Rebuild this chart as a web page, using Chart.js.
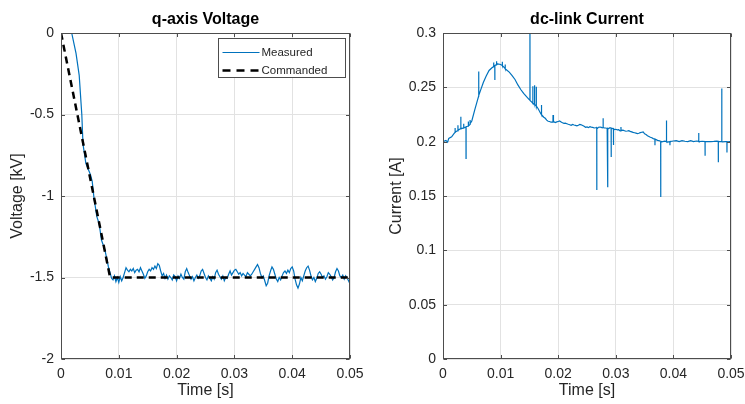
<!DOCTYPE html>
<html>
<head>
<meta charset="utf-8">
<script src="https://cdn.jsdelivr.net/npm/chart.js@4.4.1/dist/chart.umd.min.js"></script>
<style>
  html, body { margin: 0; padding: 0; background: #ffffff; }
  #wrap { position: relative; width: 745px; height: 404px; overflow: hidden; background: #ffffff; }
  .panel { position: absolute; top: 0; height: 404px; }
  #left { left: 0; width: 372px; }
  #right { left: 372px; width: 373px; }
  canvas { display: block; }
</style>
</head>
<body>
<div id="wrap">
  <div class="panel" id="left"><canvas id="voltageCanvas" width="372" height="404"></canvas></div>
  <div class="panel" id="right"><canvas id="currentCanvas" width="373" height="404"></canvas></div>
</div>
<script>
// ---- axis ticks ----
const timeTicks = [0, 0.01, 0.02, 0.03, 0.04, 0.05];
const timeTickLabels = ['0', '0.01', '0.02', '0.03', '0.04', '0.05'];
const voltageTicks = [-2, -1.5, -1, -0.5, 0];
const voltageTickLabels = ['-2', '-1.5', '-1', '-0.5', '0'];
const currentTicks = [0, 0.05, 0.1, 0.15, 0.2, 0.25, 0.3];
const currentTickLabels = ['0', '0.05', '0.1', '0.15', '0.2', '0.25', '0.3'];

// ---- q-axis voltage reference [kV] ----
const commandedTime = [0, 0.0085, 0.05];
const commandedVoltage = [0, -1.5, -1.5];

// ---- measured q-axis voltage [kV]: ramp-down part ----
const rampTime = [0.00185, 0.0026, 0.00315, 0.0036, 0.0038, 0.0043, 0.0051, 0.0054,
                  0.0057, 0.0062, 0.0066, 0.0070, 0.0076, 0.0082, 0.0086, 0.00875];
const rampVoltage = [0, -0.125, -0.26, -0.50, -0.68, -0.80, -0.87, -0.91,
                     -1.01, -1.127, -1.17, -1.27, -1.33, -1.434, -1.485, -1.505];

// ---- measured q-axis voltage [kV]: logged every 0.25 ms from 9 ms on ----
const steadyStart = 0.009;
const sampleStep = 0.00025;
const steadyVoltage = [
  -1.515, -1.49, -1.525, -1.50, -1.53, -1.495, -1.52, -1.50,
  -1.47, -1.44, -1.455, -1.465, -1.45, -1.46, -1.445, -1.47, -1.455, -1.45, -1.465, -1.44, -1.46,
  -1.48, -1.505, -1.49,
  -1.465, -1.45, -1.46, -1.44, -1.45, -1.43, -1.445, -1.415, -1.425,
  -1.46, -1.49, -1.475, -1.505, -1.485, -1.51, -1.49, -1.50, -1.515, -1.485, -1.495, -1.52, -1.49, -1.505, -1.48, -1.50, -1.51,
  -1.465, -1.445, -1.47,
  -1.49, -1.51, -1.495, -1.52, -1.50, -1.485, -1.505, -1.49,
  -1.46, -1.45, -1.475,
  -1.50, -1.515, -1.49, -1.505, -1.52, -1.495, -1.51,
  -1.47, -1.455, -1.48,
  -1.495, -1.51, -1.49, -1.52, -1.50, -1.505,
  -1.48, -1.46, -1.485,
  -1.47, -1.455, -1.45, -1.465,
  -1.48, -1.47, -1.49, -1.475, -1.485, -1.495, -1.47, -1.48, -1.49,
  -1.48, -1.465, -1.45,
  -1.435, -1.42, -1.44,
  -1.475, -1.50, -1.49,
  -1.52, -1.55, -1.535,
  -1.49, -1.46, -1.435, -1.45,
  -1.48, -1.51, -1.525, -1.50, -1.515, -1.49, -1.47,
  -1.46, -1.475, -1.455, -1.47,
  -1.445, -1.435, -1.46,
  -1.51, -1.545, -1.565, -1.54,
  -1.50, -1.52, -1.49,
  -1.46, -1.44, -1.43, -1.455,
  -1.49, -1.515, -1.50, -1.525, -1.505,
  -1.475, -1.465, -1.48,
  -1.50, -1.49, -1.51, -1.495,
  -1.47, -1.48, -1.495,
  -1.515, -1.50, -1.465,
  -1.445, -1.46, -1.49,
  -1.50, -1.485, -1.51, -1.49, -1.505, -1.52, -1.54
];

// ---- dc-link current [A] ----
const currentTime = [
  0, 0.0005, 0.0008, 0.0010, 0.0015, 0.0020,
  0.00209, 0.0021, 0.00211,
  0.0025,
  0.00259, 0.0026, 0.00261,
  0.0030,
  0.00309, 0.0031, 0.00311,
  0.0035,
  0.00359, 0.0036, 0.00361,
  0.0038,
  0.00399, 0.0040, 0.00401,
  0.0043,
  0.00439, 0.0044, 0.00441,
  0.0046,
  0.00469, 0.0047, 0.00471,
  0.0050, 0.0055, 0.0060,
  0.00619, 0.0062, 0.00621,
  0.0065, 0.0070, 0.0075, 0.0080, 0.0085,
  0.00879, 0.0088, 0.00881,
  0.00899, 0.0090, 0.00901,
  0.00929, 0.0093, 0.00931,
  0.0095, 0.0100,
  0.01029, 0.0103, 0.01031,
  0.0105,
  0.01079, 0.0108, 0.01081,
  0.0110, 0.0115, 0.0120, 0.0125, 0.0130, 0.0135, 0.0140, 0.0145, 0.0150,
  0.01509, 0.0151, 0.01511,
  0.0155,
  0.01559, 0.0156, 0.01561,
  0.01589, 0.0159, 0.01591,
  0.0160,
  0.01619, 0.0162, 0.01621,
  0.0165, 0.0170,
  0.01709, 0.0171, 0.01711,
  0.0175, 0.01775, 0.0180, 0.01825, 0.0185, 0.01875, 0.0190, 0.01909, 0.0191, 0.01911,
  0.01925, 0.0195, 0.01975, 0.0200, 0.02025, 0.0205, 0.02075, 0.0210, 0.02125, 0.0215,
  0.02175, 0.0220, 0.02225, 0.0225, 0.02275, 0.0230, 0.02325, 0.0235, 0.02375, 0.0240,
  0.02425, 0.0245, 0.02475, 0.0250, 0.02525, 0.0255, 0.02575, 0.0260, 0.02625, 0.0265,
  0.02669, 0.0267, 0.02671, 0.02685, 0.0270, 0.02725, 0.0275, 0.02765, 0.02779, 0.0278,
  0.02781, 0.0280, 0.02825, 0.0285, 0.02859, 0.0286, 0.02861, 0.02875, 0.0290, 0.02919,
  0.0292, 0.02921, 0.02935, 0.02959, 0.0296, 0.02961, 0.02975, 0.0300, 0.03025, 0.0305,
  0.03075, 0.03089, 0.0309, 0.03091, 0.0310, 0.03125, 0.0315, 0.03175, 0.0320, 0.03225,
  0.0325, 0.03275, 0.0330, 0.03325, 0.0335, 0.03375, 0.0340, 0.03425, 0.0345, 0.03475,
  0.0350, 0.03525, 0.0355, 0.03575, 0.0360, 0.03625, 0.0365, 0.03679, 0.0368, 0.03681,
  0.0370, 0.03725, 0.0375, 0.03765,
  0.03779, 0.0378, 0.03781,
  0.0380, 0.0385,
  0.03879, 0.0388, 0.03881,
  0.0390,
  0.03939, 0.0394, 0.03941,
  0.0395, 0.0400, 0.0405, 0.0410, 0.0415, 0.0420, 0.0425, 0.0430, 0.0435, 0.0440,
  0.04439, 0.0444, 0.04441,
  0.0445, 0.0450,
  0.04549, 0.0455, 0.04551,
  0.0460, 0.0465, 0.0470, 0.0475,
  0.04779, 0.0478, 0.04781,
  0.0480,
  0.04839, 0.0484, 0.04841,
  0.0485, 0.0490,
  0.04929, 0.0493, 0.04931,
  0.0495, 0.0500
];
const currentValue = [
  0.2000, 0.2012, 0.1996, 0.2030, 0.2045, 0.2080,
  0.2085, 0.2125, 0.2088,
  0.2100,
  0.2102, 0.2150, 0.2104,
  0.2118,
  0.2118, 0.2230, 0.2120,
  0.2125,
  0.2127, 0.2165, 0.2128,
  0.2132,
  0.2135, 0.1845, 0.2138,
  0.2142,
  0.2143, 0.2185, 0.2146,
  0.2152,
  0.2160, 0.2200, 0.2165,
  0.2190, 0.2290, 0.2385,
  0.2420, 0.2645, 0.2425,
  0.2470, 0.2545, 0.2605, 0.2655, 0.2680,
  0.2690, 0.2728, 0.2692,
  0.2700, 0.2568, 0.2702,
  0.2706, 0.2740, 0.2708,
  0.2715, 0.2710,
  0.2700, 0.2735, 0.2698,
  0.2690,
  0.2672, 0.2710, 0.2670,
  0.2662, 0.2640, 0.2608, 0.2572, 0.2522, 0.2480, 0.2444, 0.2415, 0.2385,
  0.2382, 0.3100, 0.2379,
  0.2360,
  0.2356, 0.2510, 0.2352,
  0.2345, 0.2520, 0.2342,
  0.2338,
  0.2330, 0.2505, 0.2327,
  0.2305, 0.2255,
  0.2250, 0.2338, 0.2248,
  0.2225, 0.2215, 0.2198, 0.2188, 0.2186, 0.2179, 0.2181, 0.2180, 0.2246, 0.2179,
  0.2185, 0.2176, 0.2182, 0.2186, 0.2190, 0.2182, 0.2174, 0.2168, 0.2170, 0.2165,
  0.2160, 0.2156, 0.2150, 0.2158, 0.2153, 0.2150, 0.2146, 0.2151, 0.2158, 0.2155,
  0.2149, 0.2142, 0.2132, 0.2135, 0.2129, 0.2138, 0.2134, 0.2131, 0.2126, 0.2128,
  0.2128, 0.1555, 0.2129, 0.2124, 0.2133, 0.2135, 0.2131, 0.2127, 0.2130, 0.2215,
  0.2130, 0.2127, 0.2126, 0.2122, 0.2122, 0.1580, 0.2123, 0.2120, 0.2128, 0.2125,
  0.1860, 0.2124, 0.2122, 0.2118, 0.1970, 0.2118, 0.2112, 0.2114, 0.2109, 0.2110,
  0.2099, 0.2106, 0.2135, 0.2105, 0.2104, 0.2106, 0.2101, 0.2096, 0.2098, 0.2101,
  0.2095, 0.2090, 0.2085, 0.2082, 0.2079, 0.2074, 0.2077, 0.2083, 0.2087, 0.2090,
  0.2072, 0.2066, 0.2055, 0.2048, 0.2040, 0.2036, 0.2028, 0.2024, 0.1966, 0.2023,
  0.2019, 0.2012, 0.2010, 0.2006,
  0.2004, 0.1490, 0.2003,
  0.1998, 0.2004,
  0.2001, 0.2195, 0.2000,
  0.1996,
  0.2001, 0.1966, 0.2001,
  0.2002, 0.2006, 0.2009, 0.2000, 0.2009, 0.2004, 0.2000, 0.2009, 0.2001, 0.2006,
  0.2003, 0.2080, 0.2002,
  0.2000, 0.2004,
  0.2001, 0.1870, 0.2000,
  0.2001, 0.2000, 0.2002, 0.2005,
  0.2003, 0.1810, 0.2002,
  0.2001,
  0.2000, 0.2490, 0.2000,
  0.1999, 0.2000,
  0.1999, 0.1900, 0.1999,
  0.1998, 0.2002
];

// ---- styling ----
const FONT = "'Liberation Sans', Arial, Helvetica, sans-serif";
const BLUE = '#0072BD';
const AXIS_COLOR = '#4d4d4d';
const GRID_COLOR = '#e2e2e2';
const TEXT_COLOR = '#262626';

// ---- assemble point lists ----
const zip = (xs, ys) => xs.map((x, i) => ({ x, y: ys[i] }));
const measuredPoints = zip(rampTime, rampVoltage).concat(
  steadyVoltage.map((v, i) => ({ x: steadyStart + i * sampleStep, y: v }))
);
const commandedPoints = zip(commandedTime, commandedVoltage);
const currentPoints = zip(currentTime, currentValue);

// box around the plot area plus inward tick marks on all four sides
const frameAndTicks = {
  id: 'frameAndTicks',
  afterDatasetsDraw(chart) {
    const { ctx, chartArea: a, scales: { x, y } } = chart;
    const len = 3.5;
    const L = Math.round(a.left) + 0.5, R = Math.round(a.right) - 0.5;
    const T = Math.round(a.top) + 0.5, B = Math.round(a.bottom) - 0.5;
    ctx.save();
    ctx.strokeStyle = AXIS_COLOR;
    ctx.lineWidth = 1;
    ctx.beginPath();
    x.ticks.forEach(t => {
      const px = Math.round(x.getPixelForValue(t.value)) + 0.5;
      ctx.moveTo(px, B); ctx.lineTo(px, B - len);
      ctx.moveTo(px, T); ctx.lineTo(px, T + len);
    });
    y.ticks.forEach(t => {
      const py = Math.round(y.getPixelForValue(t.value)) + 0.5;
      ctx.moveTo(L, py); ctx.lineTo(L + len, py);
      ctx.moveTo(R, py); ctx.lineTo(R - len, py);
    });
    ctx.stroke();
    ctx.strokeRect(L, T, R - L, B - T);
    ctx.restore();
  }
};

// framed legend placed in the upper-right corner of the plot area
const boxedLegend = {
  id: 'boxedLegend',
  afterDraw(chart, args, opts) {
    if (!opts || !opts.display) return;
    const { ctx, chartArea: a } = chart;
    const bx = Math.round(a.right - opts.inset - opts.width) + 0.5;
    const by = Math.round(a.top + opts.inset) + 0.5;
    ctx.save();
    ctx.fillStyle = '#ffffff';
    ctx.fillRect(bx, by, opts.width, opts.height);
    ctx.strokeStyle = AXIS_COLOR;
    ctx.lineWidth = 1;
    ctx.strokeRect(bx, by, opts.width, opts.height);
    ctx.font = opts.fontSize + 'px ' + FONT;
    ctx.textBaseline = 'middle';
    ctx.textAlign = 'left';
    chart.data.datasets.forEach((ds, i) => {
      const cy = by + opts.rowTop + i * opts.rowGap;
      ctx.save();
      ctx.strokeStyle = ds.borderColor;
      ctx.lineWidth = ds.borderWidth;
      ctx.setLineDash(ds.legendDash || []);
      ctx.beginPath();
      ctx.moveTo(bx + 4, cy);
      ctx.lineTo(bx + 41, cy);
      ctx.stroke();
      ctx.restore();
      ctx.fillStyle = TEXT_COLOR;
      ctx.fillText(ds.label, bx + 43, cy + 0.5);
    });
    ctx.restore();
  }
};

function axisOptions(min, max, tickValues, tickLabels, titleText, isX, yWidth, titlePad) {
  return {
    type: 'linear',
    min, max,
    afterBuildTicks: s => { s.ticks = tickValues.map(v => ({ value: v })); },
    afterFit: s => {
      // fixed axis band sizes; no extra room reserved for overhanging labels
      if (isX) { s.height = 45; s.paddingLeft = 0; s.paddingRight = 0; }
      else { s.width = yWidth; s.paddingTop = 0; s.paddingBottom = 0; }
    },
    ticks: {
      callback: (v, i) => tickLabels[i],
      color: TEXT_COLOR,
      font: { family: FONT, size: 14 },
      padding: 7,
      autoSkip: false,
      maxRotation: 0,
      minRotation: 0
    },
    grid: { color: GRID_COLOR, lineWidth: 1, drawTicks: false },
    border: { display: false },
    title: {
      display: true,
      text: titleText,
      color: TEXT_COLOR,
      font: { family: FONT, size: 16 },
      padding: titlePad
    }
  };
}

function panelTitle(text) {
  return {
    display: true,
    text,
    fullSize: false,
    color: '#000000',
    font: { family: FONT, size: 16, weight: 'bold' },
    padding: { top: 10, bottom: 3.8 }
  };
}

new Chart(document.getElementById('voltageCanvas'), {
  type: 'line',
  data: {
    datasets: [
      { label: 'Measured', data: measuredPoints, borderColor: BLUE, borderWidth: 1.2,
        pointRadius: 0, tension: 0, fill: false, order: 1 },
      { label: 'Commanded', data: commandedPoints, borderColor: '#000000', borderWidth: 2.5,
        borderDash: [7, 5], legendDash: [8, 6], pointRadius: 0, tension: 0, fill: false, order: 0 }
    ]
  },
  options: {
    responsive: false,
    animation: false,
    devicePixelRatio: 1,
    events: [],
    layout: { autoPadding: false, padding: { left: 0, right: 22, top: 0, bottom: 0 } },
    plugins: {
      legend: { display: false },
      tooltip: { enabled: false },
      title: panelTitle('q-axis Voltage'),
      boxedLegend: { display: true, inset: 5, width: 127, height: 39, rowTop: 14, rowGap: 18, fontSize: 11.5 }
    },
    scales: {
      x: axisOptions(0, 0.05, timeTicks, timeTickLabels, 'Time [s]', true, 0, { top: 0, bottom: 3.4 }),
      y: axisOptions(-2, 0, voltageTicks, voltageTickLabels, 'Voltage [kV]', false, 61, { top: 8.4, bottom: 0 })
    }
  },
  plugins: [frameAndTicks, boxedLegend]
});

new Chart(document.getElementById('currentCanvas'), {
  type: 'line',
  data: {
    datasets: [
      { label: 'dc-link current', data: currentPoints, borderColor: BLUE, borderWidth: 1.2,
        pointRadius: 0, tension: 0, fill: false }
    ]
  },
  options: {
    responsive: false,
    animation: false,
    devicePixelRatio: 1,
    events: [],
    layout: { autoPadding: false, padding: { left: 0, right: 14, top: 0, bottom: 0 } },
    plugins: {
      legend: { display: false },
      tooltip: { enabled: false },
      title: panelTitle('dc-link Current')
    },
    scales: {
      x: axisOptions(0, 0.05, timeTicks, timeTickLabels, 'Time [s]', true, 0, { top: 0, bottom: 3.4 }),
      y: axisOptions(0, 0.3, currentTicks, currentTickLabels, 'Current [A]', false, 71, { top: 15.4, bottom: 0 })
    }
  },
  plugins: [frameAndTicks]
});
</script>
</body>
</html>
